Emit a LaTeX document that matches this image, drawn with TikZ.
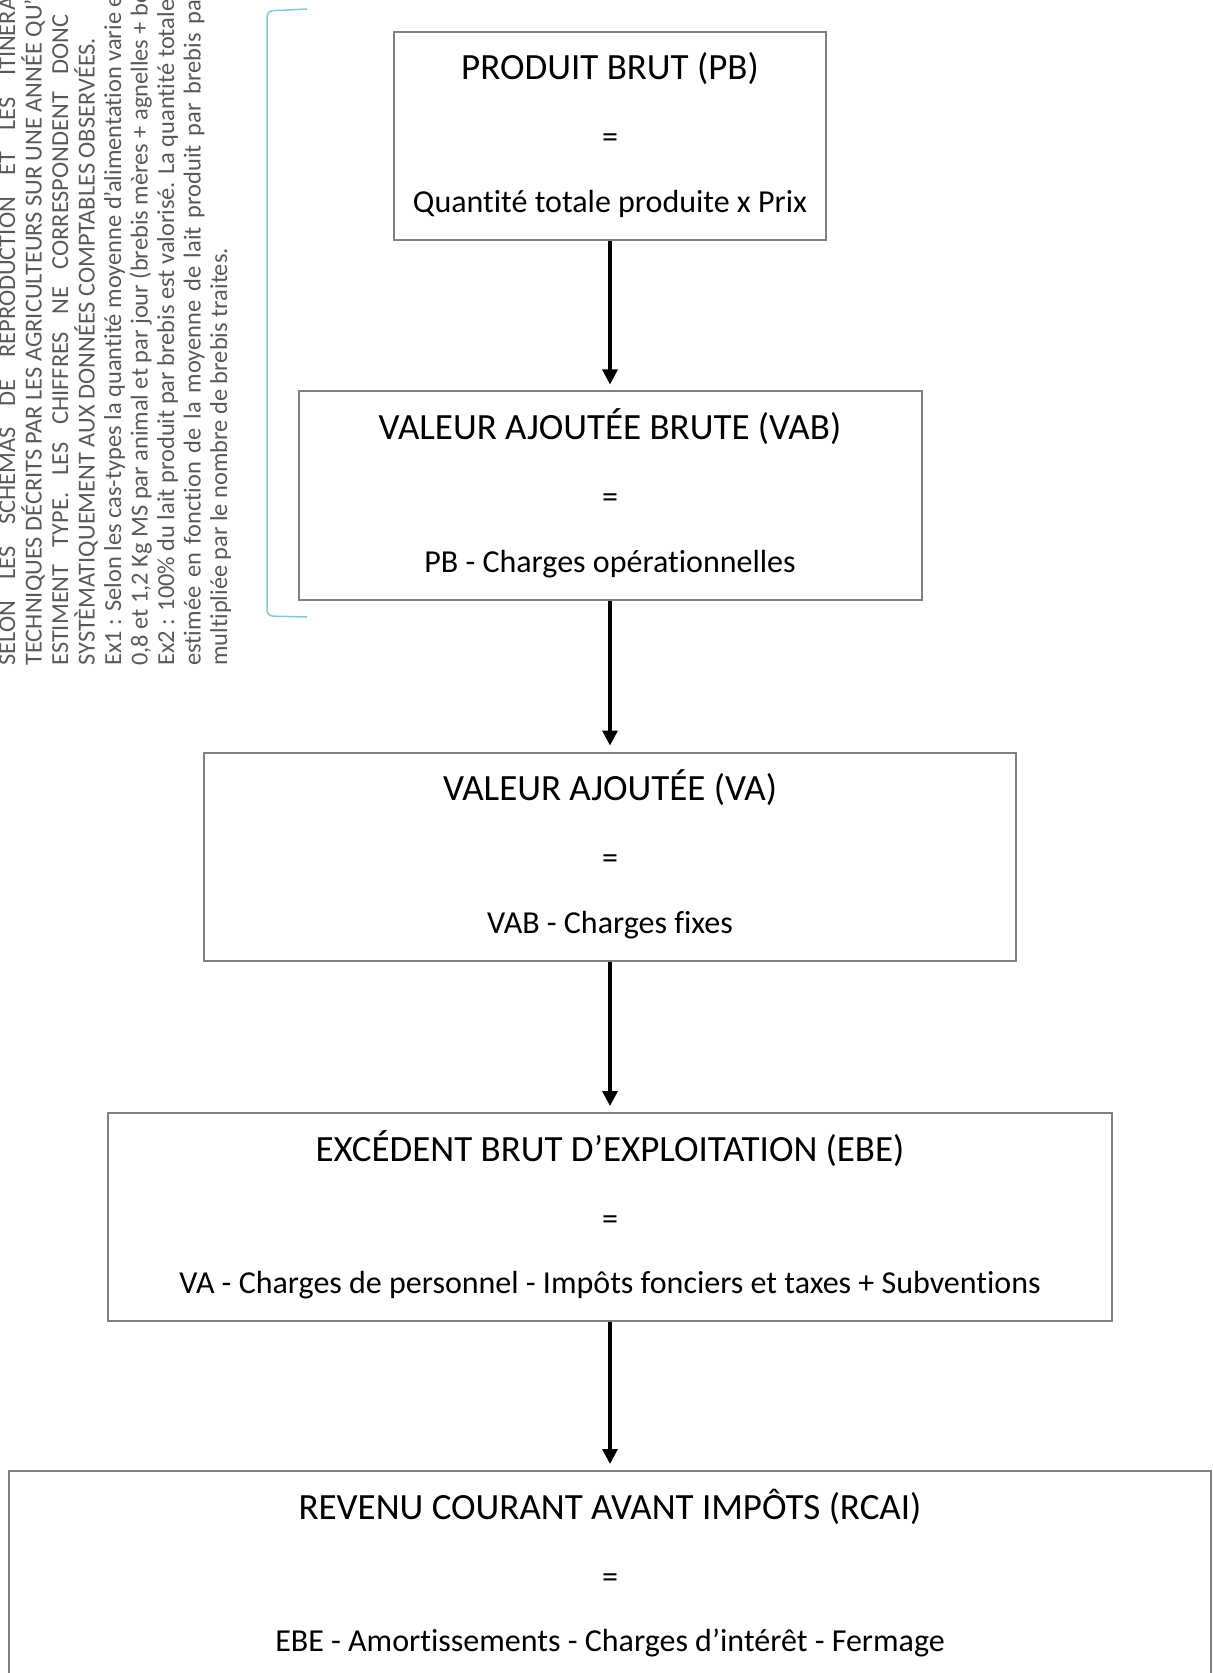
\documentclass[tikz,border=0pt]{standalone}
\usepackage{fontspec}
\setmainfont{Carlito}[Ligatures={NoCommon}]
\usetikzlibrary{arrows.meta,positioning}
\definecolor{grisbord}{RGB}{127,127,127}
\definecolor{grisnote}{RGB}{89,89,89}
\definecolor{bleuaccolade}{RGB}{120,205,225}

\begin{document}
\begin{tikzpicture}[x=0.5pt,y=-0.5pt]
%
% Styles
%
\tikzset{bloc/.style={draw=grisbord, line width=1pt, minimum height=104pt, inner sep=0pt}};%
\tikzset{titre/.style={font=\fontsize{18.5}{22}\selectfont, anchor=base, inner sep=0pt}};%
\tikzset{formule/.style={font=\fontsize{16}{19}\selectfont, anchor=base, inner sep=0pt}};%
\tikzset{fleche/.style={-{Triangle[width=7.5pt,length=7.5pt]}, line width=1.65pt, shorten >=3pt}};%
\tikzset{note/.style={font=\fontsize{12.2}{13.25}\selectfont, text=grisnote, rotate=90, anchor=base west, inner sep=0pt}};%
\tikzset{accolade/.style={draw=bleuaccolade, line width=0.75pt, rounded corners=3pt}};%

%
% Frame
%
\useasboundingbox (0,0) rectangle (1213,1673);%
\clip (0,0) rectangle (1213,1673);%

%
% Rotated note
%
\foreach \ligne [count=\i from 0] in {%
    {\spaceskip=10.7pt SELON LES SCHÉMAS DE REPRODUCTION ET LES ITINÉRAIRES},%
    {TECHNIQUES DÉCRITS PAR LES AGRICULTEURS SUR UNE ANNÉE QU’ILS},%
    {\makebox[325.5pt][s]{ESTIMENT TYPE. LES CHIFFRES NE CORRESPONDENT DONC}},%
    {SYSTÈMATIQUEMENT AUX DONNÉES COMPTABLES OBSERVÉES.},%
    {Ex1 : Selon les cas-types la quantité moyenne d’alimentation varie entre},%
    {0,8 et 1,2 Kg MS par animal et par jour (brebis mères + agnelles + béliers)},%
    {Ex2 : 100\% du lait produit par brebis est valorisé. La quantité totale},%
    {\makebox[337pt][s]{estimée en fonction de la moyenne de lait produit par brebis par}},%
    {multipliée par le nombre de brebis traites.}}{%
    \node[note] (note\i) at (15+26.5*\i,666) {\ligne};%
}
\draw[accolade] (307,9) -- (267,11) -- (267,616) -- (307,617);%

%
% Boxes
%
\node[bloc, minimum width=216pt] (pb) at (610,136) {};%
\node[bloc, minimum width=311.5pt] (vab) at (610,495.5) {};%
\node[bloc, minimum width=406pt] (va) at (610,856.5) {};%
\node[bloc, minimum width=502pt] (ebe) at (610,1217) {};%
\node[bloc, minimum width=601pt] (rcai) at (610,1575) {};%

\foreach \bloc/\titre/\formule in {%
    pb/{PRODUIT BRUT (PB)}/{Quantité totale produite x Prix},%
    vab/{VALEUR AJOUTÉE BRUTE (VAB)}/{PB - Charges opérationnelles},%
    va/{VALEUR AJOUTÉE (VA)}/{VAB - Charges fixes},%
    ebe/{EXCÉDENT BRUT D’EXPLOITATION (EBE)}/{VA - Charges de personnel - Impôts fonciers et taxes + Subventions},%
    rcai/{REVENU COURANT AVANT IMPÔTS (RCAI)}/{EBE - Amortissements - Charges d’intérêt - Fermage}}{%
    \node[titre] (\bloc-titre) at ([yshift=-24.5pt]\bloc.north) {\titre};%
    \node[formule] (\bloc-egal) at ([yshift=-6pt]\bloc.center) {=};%
    \node[formule] (\bloc-formule) at ([yshift=14.2pt]\bloc.south) {\formule};%
}

%
% Arrows
%
\draw[fleche] (pb.south) -- (vab.north);%
\draw[fleche] (vab.south) -- (va.north);%
\draw[fleche] (va.south) -- (ebe.north);%
\draw[fleche] (ebe.south) -- (rcai.north);%
\end{tikzpicture}
\end{document}
